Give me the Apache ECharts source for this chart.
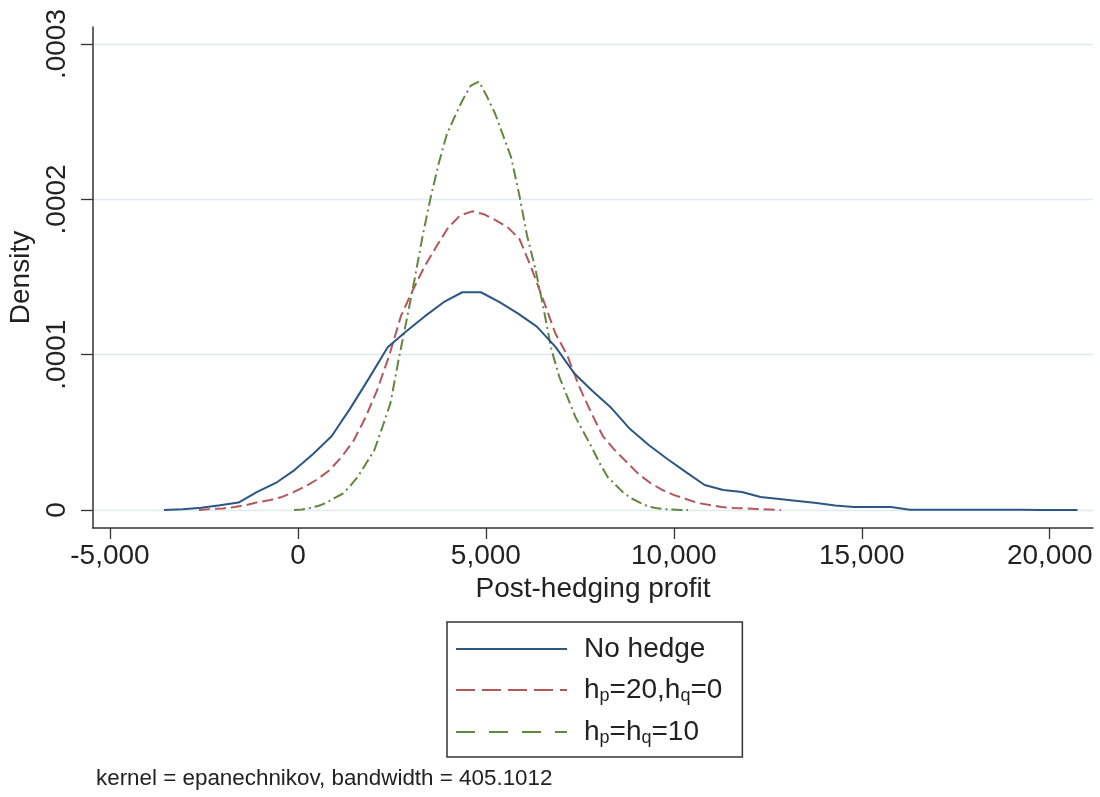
<!DOCTYPE html>
<html>
<head>
<meta charset="utf-8">
<script src="https://cdn.jsdelivr.net/npm/echarts@6/dist/echarts.min.js"></script>
<style>
html,body{margin:0;padding:0;background:#fff;}
#chart{width:1100px;height:797px;}
</style>
</head>
<body>
<div id="chart"></div>
<script>
// ---- Data ----
const seriesNames = ['No hedge', 'h_p=20,h_q=0', 'h_p=h_q=10'];

const noHedgeX = [-3564, -3068, -2572, -2076, -1580, -1084, -588, -92, 404, 900,
  1396, 1892, 2388, 2884, 3380, 3876, 4372, 4868, 5364, 5860,
  6356, 6852, 7348, 7844, 8340, 8836, 9332, 9828, 10324, 10820,
  11316, 11812, 12308, 12804, 13300, 13796, 14292, 14788, 15284, 15780,
  16276, 16772, 17268, 17764, 18260, 18756, 19252, 19748, 20244, 20740];
const noHedgeY = [0, 0.0000005, 0.0000015, 0.000003, 0.0000048, 0.0000116, 0.0000174, 0.0000257, 0.000036, 0.0000476,
  0.0000656, 0.0000849, 0.0001048, 0.0001151, 0.0001248, 0.0001338, 0.0001402, 0.0001402, 0.0001338, 0.0001264,
  0.0001181, 0.000105, 0.0000881, 0.0000765, 0.0000656, 0.0000521, 0.0000418, 0.0000328, 0.0000244, 0.0000161,
  0.0000129, 0.0000116, 0.0000084, 0.0000071, 0.0000058, 0.0000045, 0.0000029, 0.0000019, 0.0000019, 0.0000019,
  0.0000002, 0.0000001, 0.0000001, 0.0000001, 0.0000001, 0.0000001, 0.0000001, 0, 0, 0];

const hp20X = [-2633, -2317, -2001, -1685, -1369, -1053, -737, -421, -105, 211,
  527, 843, 1159, 1475, 1791, 2107, 2423, 2739, 3055, 3371,
  3687, 4003, 4319, 4635, 4951, 5267, 5583, 5899, 6215, 6531,
  6847, 7163, 7479, 7795, 8111, 8427, 8743, 9059, 9375, 9691,
  10007, 10323, 10639, 10955, 11271, 11587, 11903, 12219, 12535, 12851];
const hp20Y = [0, 0.0000006, 0.000001, 0.0000019, 0.0000032, 0.0000051, 0.0000064, 0.0000084, 0.0000116, 0.0000154,
  0.0000199, 0.0000257, 0.0000341, 0.0000444, 0.0000592, 0.0000772, 0.000099, 0.0001248, 0.0001415, 0.0001569,
  0.0001698, 0.000182, 0.0001897, 0.0001923, 0.0001904, 0.0001865, 0.000182, 0.0001743, 0.0001556, 0.000135,
  0.0001138, 0.0000997, 0.0000797, 0.000063, 0.0000476, 0.0000386, 0.0000309, 0.0000232, 0.0000174, 0.0000129,
  0.0000096, 0.0000071, 0.0000045, 0.0000032, 0.0000019, 0.0000013, 0.000001, 0.0000006, 0.0000003, 0];

const hp10X = [-106, 108, 322, 536, 750, 964, 1178, 1392, 1606, 1820,
  2034, 2248, 2462, 2676, 2890, 3104, 3318, 3532, 3746, 3960,
  4174, 4388, 4602, 4816, 5030, 5244, 5458, 5672, 5886, 6100,
  6314, 6528, 6742, 6956, 7170, 7384, 7598, 7812, 8026, 8240,
  8454, 8668, 8882, 9096, 9310, 9524, 9738, 9952, 10166, 10380];
const hp10Y = [0, 0.0000003, 0.0000013, 0.0000026, 0.0000045, 0.0000077, 0.0000103, 0.0000154, 0.0000219, 0.0000302,
  0.0000386, 0.0000534, 0.0000688, 0.0000965, 0.0001222, 0.0001486, 0.0001765, 0.0002013, 0.0002232, 0.0002418,
  0.0002534, 0.0002643, 0.0002733, 0.0002759, 0.0002662, 0.0002553, 0.0002412, 0.000227, 0.0002032, 0.0001762,
  0.0001556, 0.0001306, 0.0001035, 0.0000855, 0.0000727, 0.0000598, 0.0000502, 0.0000405, 0.0000302, 0.0000212,
  0.0000161, 0.0000109, 0.0000074, 0.0000048, 0.0000023, 0.0000013, 0.0000006, 0.0000003, 0, 0];

const xTicks = [-5000, 0, 5000, 10000, 15000, 20000];
const yTicks = [0, 0.0001, 0.0002, 0.0003];
const xTitle = 'Post-hedging profit';
const yTitle = 'Density';
const note = 'kernel = epanechnikov, bandwidth = 405.1012';

// ---- Chart ----
const FONT = 'Liberation Sans, Arial, Helvetica, sans-serif';
const TXT = '#222';
const pair = (xs, ys) => xs.map((x, i) => [x, ys[i]]);

const legendRich = {
  'No hedge': '{n|No hedge}',
  'h_p=20,h_q=0': '{n|h}{s|p}{n|=20,h}{s|q}{n|=0}',
  'h_p=h_q=10': '{n|h}{s|p}{n|=h}{s|q}{n|=10}'
};

const chart = echarts.init(document.getElementById('chart'), null, {renderer: 'canvas'});
chart.setOption({
  animation: false,
  backgroundColor: '#fff',
  grid: {left: 93, right: 7, top: 27, bottom: 269, containLabel: false, outerBoundsMode: 'none'},
  xAxis: {
    type: 'value', min: -5452, max: 21152,
    name: xTitle, nameLocation: 'middle', nameGap: 44,
    nameTextStyle: {fontSize: 28, fontFamily: FONT, color: TXT},
    axisLine: {show: true, onZero: false, lineStyle: {color: '#333', width: 1.5}},
    axisTick: {show: true, length: 11, customValues: xTicks, lineStyle: {color: '#333', width: 1.3}},
    axisLabel: {customValues: xTicks, margin: 14, fontSize: 28, fontFamily: FONT, color: TXT,
      formatter: v => (v < 0 ? '-' : '') + String(Math.abs(v)).replace(/\B(?=(\d{3})+(?!\d))/g, ',')},
    splitLine: {show: false}
  },
  yAxis: {
    type: 'value', min: -0.0000116, max: 0.000311, splitNumber: 3,
    name: yTitle, nameLocation: 'middle', nameGap: 47,
    nameTextStyle: {fontSize: 28, fontFamily: FONT, color: TXT},
    axisLine: {show: true, onZero: false, lineStyle: {color: '#333', width: 1.5}},
    axisTick: {show: true, length: 12, customValues: yTicks, lineStyle: {color: '#333', width: 1.3}},
    axisLabel: {customValues: yTicks, rotate: 90, margin: 22, fontSize: 28, fontFamily: FONT, color: TXT,
      formatter: v => v === 0 ? '0' : '.' + String(Math.round(v * 1e4)).padStart(4, '0')},
    splitLine: {show: true, showMinLine: true, showMaxLine: true,
      lineStyle: {color: '#e0eaef', width: 1.3, type: 'solid'}}
  },
  legend: {
    orient: 'vertical', left: 447, top: 622,
    padding: [13, 20, 10, 8], itemGap: 13, itemWidth: 111, itemHeight: 14,
    borderColor: '#333', borderWidth: 1.5, borderRadius: 0, backgroundColor: '#fff',
    itemStyle: {opacity: 0},
    selectedMode: false,
    data: [
      {name: seriesNames[0], lineStyle: {type: 'solid', width: 2}},
      {name: seriesNames[1], lineStyle: {type: [19, 7], width: 2}},
      {name: seriesNames[2], lineStyle: {type: [19, 14], width: 2}}
    ],
    formatter: name => legendRich[name],
    textStyle: {
      padding: [0, 0, 0, 12], fontFamily: FONT, color: TXT,
      rich: {
        n: {fontSize: 28, lineHeight: 30, fontFamily: FONT, color: TXT},
        s: {fontSize: 18, lineHeight: 14, verticalAlign: 'bottom', fontFamily: FONT, color: TXT}
      }
    }
  },
  graphic: [{
    type: 'text', left: 96, top: 768,
    style: {text: note, font: '22.4px ' + FONT, fill: TXT}
  }],
  series: [
    {
      name: seriesNames[0], type: 'line', data: pair(noHedgeX, noHedgeY),
      symbol: 'none', smooth: false, z: 4,
      lineStyle: {color: '#2c5785', width: 2, type: 'solid'}, itemStyle: {color: '#2c5785'}
    },
    {
      name: seriesNames[1], type: 'line', data: pair(hp20X, hp20Y),
      symbol: 'none', smooth: false, z: 3,
      lineStyle: {color: '#b4575b', width: 2, type: [11, 5]}, itemStyle: {color: '#b4575b'}
    },
    {
      name: seriesNames[2], type: 'line', data: pair(hp10X, hp10Y),
      symbol: 'none', smooth: false, z: 3,
      lineStyle: {color: '#62873f', width: 2, type: [11, 4, 2, 4]}, itemStyle: {color: '#62873f'}
    }
  ]
});
</script>
</body>
</html>
